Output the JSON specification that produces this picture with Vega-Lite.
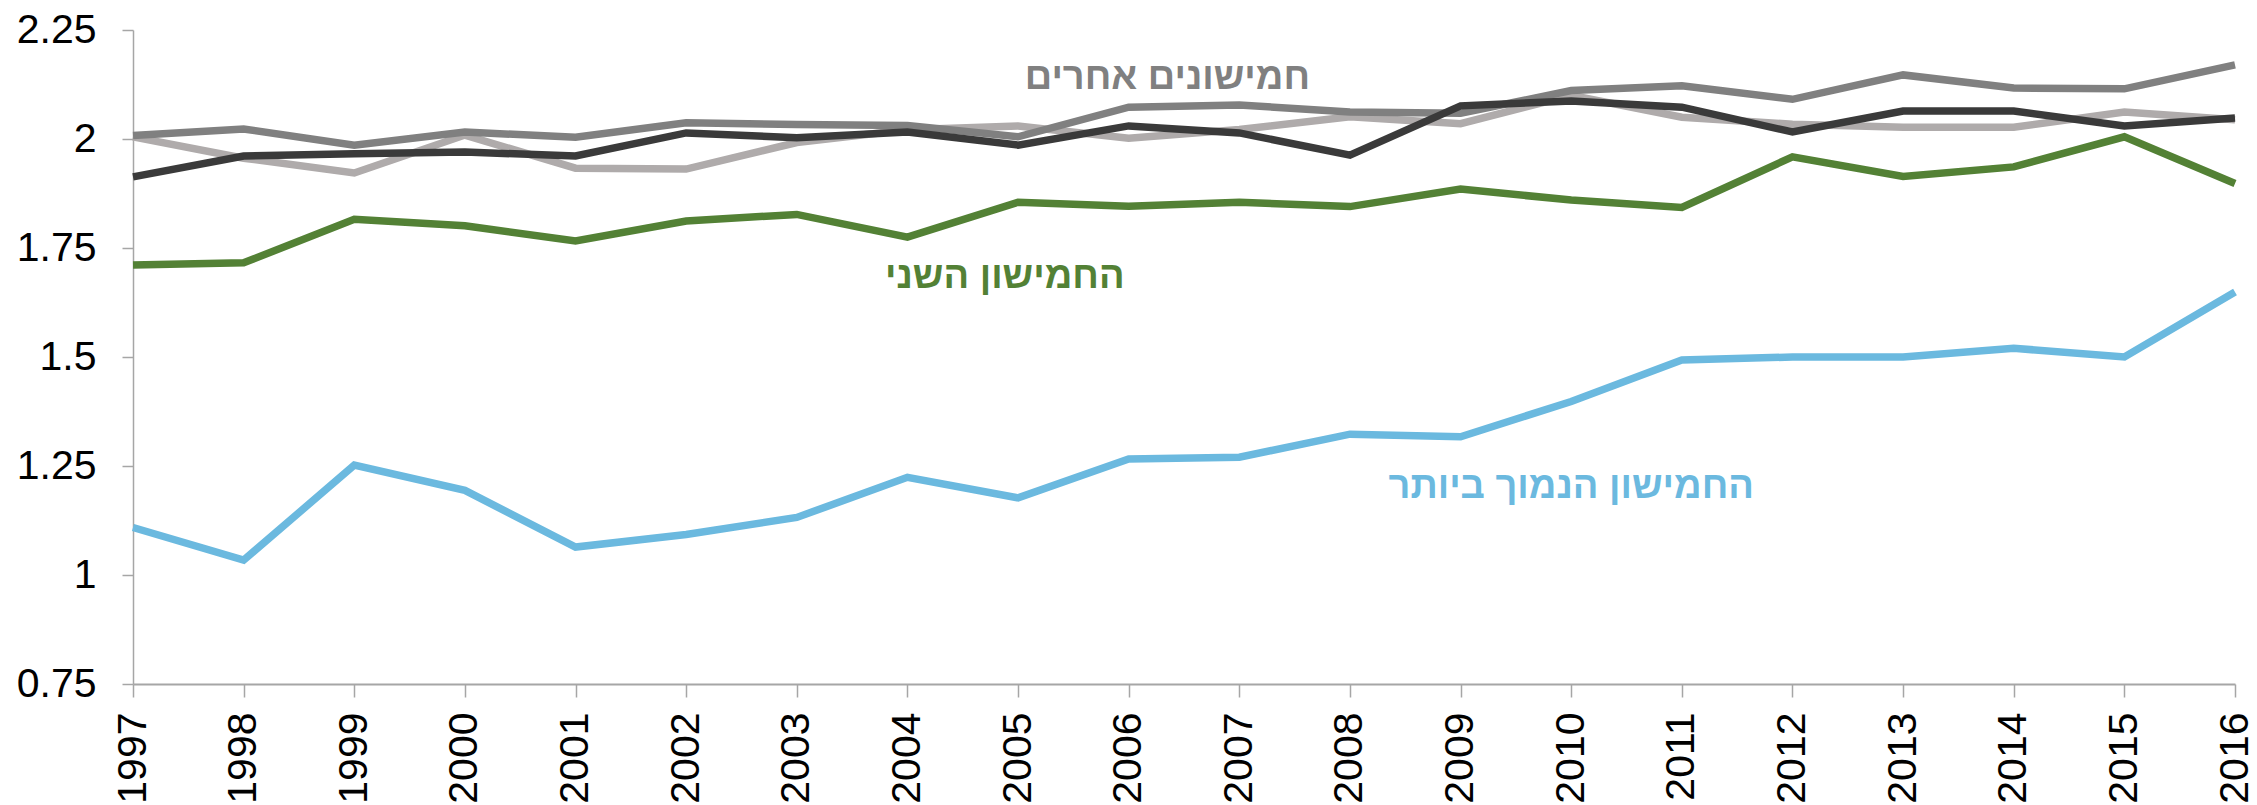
{
  "$schema": "https://vega.github.io/schema/vega-lite/v6.json",
  "width": 2102,
  "height": 654,
  "autosize": {"type": "none"},
  "padding": {"left": 133, "top": 30, "right": 22, "bottom": 121},
  "background": "white",
  "config": {
    "view": {"stroke": null},
    "axis": {"grid": false, "labelFont": "Liberation Sans", "labelColor": "#000000", "domainColor": "#A6A6A6", "tickColor": "#A6A6A6", "title": null}
  },
  "layer": [
    {
      "data": {
        "values": [
          {"year": 1997, "series": "light", "value": 2.005},
          {"year": 1998, "series": "light", "value": 1.956},
          {"year": 1999, "series": "light", "value": 1.922},
          {"year": 2000, "series": "light", "value": 2.009},
          {"year": 2001, "series": "light", "value": 1.933},
          {"year": 2002, "series": "light", "value": 1.931},
          {"year": 2003, "series": "light", "value": 1.992},
          {"year": 2004, "series": "light", "value": 2.021},
          {"year": 2005, "series": "light", "value": 2.030},
          {"year": 2006, "series": "light", "value": 2.002},
          {"year": 2007, "series": "light", "value": 2.022},
          {"year": 2008, "series": "light", "value": 2.051},
          {"year": 2009, "series": "light", "value": 2.035},
          {"year": 2010, "series": "light", "value": 2.100},
          {"year": 2011, "series": "light", "value": 2.050},
          {"year": 2012, "series": "light", "value": 2.034},
          {"year": 2013, "series": "light", "value": 2.027},
          {"year": 2014, "series": "light", "value": 2.027},
          {"year": 2015, "series": "light", "value": 2.062},
          {"year": 2016, "series": "light", "value": 2.044},
          {"year": 1997, "series": "medium", "value": 2.008},
          {"year": 1998, "series": "medium", "value": 2.023},
          {"year": 1999, "series": "medium", "value": 1.986},
          {"year": 2000, "series": "medium", "value": 2.016},
          {"year": 2001, "series": "medium", "value": 2.004},
          {"year": 2002, "series": "medium", "value": 2.037},
          {"year": 2003, "series": "medium", "value": 2.033},
          {"year": 2004, "series": "medium", "value": 2.031},
          {"year": 2005, "series": "medium", "value": 2.005},
          {"year": 2006, "series": "medium", "value": 2.073},
          {"year": 2007, "series": "medium", "value": 2.078},
          {"year": 2008, "series": "medium", "value": 2.062},
          {"year": 2009, "series": "medium", "value": 2.059},
          {"year": 2010, "series": "medium", "value": 2.111},
          {"year": 2011, "series": "medium", "value": 2.122},
          {"year": 2012, "series": "medium", "value": 2.091},
          {"year": 2013, "series": "medium", "value": 2.147},
          {"year": 2014, "series": "medium", "value": 2.117},
          {"year": 2015, "series": "medium", "value": 2.115},
          {"year": 2016, "series": "medium", "value": 2.170},
          {"year": 1997, "series": "dark", "value": 1.913},
          {"year": 1998, "series": "dark", "value": 1.961},
          {"year": 1999, "series": "dark", "value": 1.966},
          {"year": 2000, "series": "dark", "value": 1.970},
          {"year": 2001, "series": "dark", "value": 1.961},
          {"year": 2002, "series": "dark", "value": 2.014},
          {"year": 2003, "series": "dark", "value": 2.003},
          {"year": 2004, "series": "dark", "value": 2.016},
          {"year": 2005, "series": "dark", "value": 1.986},
          {"year": 2006, "series": "dark", "value": 2.030},
          {"year": 2007, "series": "dark", "value": 2.014},
          {"year": 2008, "series": "dark", "value": 1.963},
          {"year": 2009, "series": "dark", "value": 2.076},
          {"year": 2010, "series": "dark", "value": 2.087},
          {"year": 2011, "series": "dark", "value": 2.073},
          {"year": 2012, "series": "dark", "value": 2.016},
          {"year": 2013, "series": "dark", "value": 2.064},
          {"year": 2014, "series": "dark", "value": 2.064},
          {"year": 2015, "series": "dark", "value": 2.030},
          {"year": 2016, "series": "dark", "value": 2.048},
          {"year": 1997, "series": "second", "value": 1.711},
          {"year": 1998, "series": "second", "value": 1.716},
          {"year": 1999, "series": "second", "value": 1.816},
          {"year": 2000, "series": "second", "value": 1.801},
          {"year": 2001, "series": "second", "value": 1.766},
          {"year": 2002, "series": "second", "value": 1.812},
          {"year": 2003, "series": "second", "value": 1.827},
          {"year": 2004, "series": "second", "value": 1.775},
          {"year": 2005, "series": "second", "value": 1.855},
          {"year": 2006, "series": "second", "value": 1.846},
          {"year": 2007, "series": "second", "value": 1.855},
          {"year": 2008, "series": "second", "value": 1.845},
          {"year": 2009, "series": "second", "value": 1.885},
          {"year": 2010, "series": "second", "value": 1.860},
          {"year": 2011, "series": "second", "value": 1.843},
          {"year": 2012, "series": "second", "value": 1.959},
          {"year": 2013, "series": "second", "value": 1.914},
          {"year": 2014, "series": "second", "value": 1.936},
          {"year": 2015, "series": "second", "value": 2.005},
          {"year": 2016, "series": "second", "value": 1.898},
          {"year": 1997, "series": "lowest", "value": 1.109},
          {"year": 1998, "series": "lowest", "value": 1.034},
          {"year": 1999, "series": "lowest", "value": 1.252},
          {"year": 2000, "series": "lowest", "value": 1.194},
          {"year": 2001, "series": "lowest", "value": 1.064},
          {"year": 2002, "series": "lowest", "value": 1.093},
          {"year": 2003, "series": "lowest", "value": 1.132},
          {"year": 2004, "series": "lowest", "value": 1.224},
          {"year": 2005, "series": "lowest", "value": 1.177},
          {"year": 2006, "series": "lowest", "value": 1.266},
          {"year": 2007, "series": "lowest", "value": 1.270},
          {"year": 2008, "series": "lowest", "value": 1.323},
          {"year": 2009, "series": "lowest", "value": 1.317},
          {"year": 2010, "series": "lowest", "value": 1.398},
          {"year": 2011, "series": "lowest", "value": 1.493},
          {"year": 2012, "series": "lowest", "value": 1.500},
          {"year": 2013, "series": "lowest", "value": 1.500},
          {"year": 2014, "series": "lowest", "value": 1.520},
          {"year": 2015, "series": "lowest", "value": 1.500},
          {"year": 2016, "series": "lowest", "value": 1.649}
        ]
      },
      "mark": {"type": "line", "strokeWidth": 7.5, "strokeJoin": "miter", "strokeCap": "butt", "clip": false},
      "encoding": {
        "x": {
          "field": "year", "type": "quantitative",
          "scale": {"domain": [1997, 2016], "nice": false, "zero": false},
          "axis": {
            "values": [1997,1998,1999,2000,2001,2002,2003,2004,2005,2006,2007,2008,2009,2010,2011,2012,2013,2014,2015,2016],
            "format": "d", "labelAngle": -90, "labelFontSize": 41, "tickSize": 13, "labelPadding": 15,
            "domainWidth": 2, "tickWidth": 1.5, "labelOverlap": false, "labelFlush": false
          }
        },
        "y": {
          "field": "value", "type": "quantitative",
          "scale": {"domain": [0.75, 2.25], "nice": false, "zero": false},
          "axis": {
            "values": [0.75, 1, 1.25, 1.5, 1.75, 2, 2.25],
            "labelExpr": "'' + datum.value", "labelFontSize": 41, "tickSize": 11, "labelPadding": 26,
            "domainWidth": 1.5, "tickWidth": 1.5, "labelOverlap": false, "labelFlush": false
          }
        },
        "color": {
          "field": "series", "type": "nominal", "legend": null,
          "scale": {
            "domain": ["light", "medium", "dark", "second", "lowest"],
            "range": ["#AFABAB", "#808080", "#3A3A3A", "#538135", "#6BB9DF"]
          }
        }
      }
    },
    {
      "data": {
        "values": [
          {"label": "חמישונים אחרים", "year": 2006.35, "value": 2.14, "series": "medium"},
          {"label": "החמישון השני", "year": 2004.88, "value": 1.683, "series": "second"},
          {"label": "החמישון הנמוך ביותר", "year": 2010.0, "value": 1.202, "series": "lowest"}
        ]
      },
      "mark": {"type": "text", "font": "Liberation Sans", "fontWeight": "bold", "fontSize": 38, "align": "center", "baseline": "middle"},
      "encoding": {
        "x": {"field": "year", "type": "quantitative"},
        "y": {"field": "value", "type": "quantitative"},
        "text": {"field": "label"},
        "color": {"field": "series", "type": "nominal", "legend": null}
      }
    }
  ]
}
